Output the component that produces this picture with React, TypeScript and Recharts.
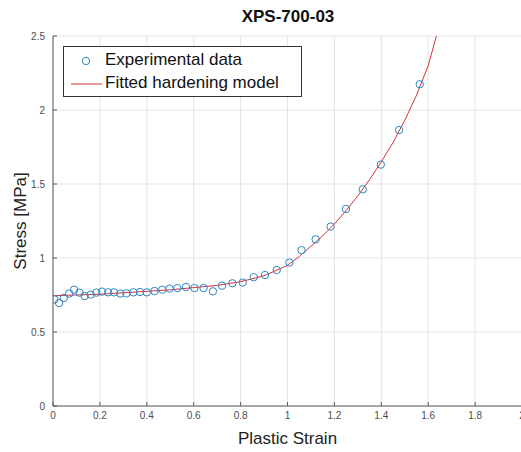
import {
  ComposedChart,
  Scatter,
  Line,
  XAxis,
  YAxis,
  CartesianGrid,
} from "recharts";

// experimental points (plastic strain, stress in MPa)
const expStrain = [
  0.006, 0.026, 0.046, 0.069, 0.09, 0.113, 0.135, 0.161, 0.185, 0.209, 0.235,
  0.26, 0.287, 0.313, 0.343, 0.371, 0.4, 0.433, 0.466, 0.497, 0.53, 0.567,
  0.603, 0.642, 0.682, 0.721, 0.765, 0.809, 0.856, 0.904, 0.954, 1.008, 1.06,
  1.12, 1.184, 1.249, 1.321, 1.398, 1.476, 1.564,
];
const expStress = [
  0.72, 0.696, 0.73, 0.76, 0.786, 0.766, 0.743, 0.753, 0.766, 0.773, 0.768,
  0.768, 0.76, 0.761, 0.768, 0.77, 0.768, 0.777, 0.786, 0.793, 0.797, 0.804,
  0.797, 0.797, 0.775, 0.813, 0.829, 0.834, 0.87, 0.885, 0.919, 0.969, 1.053,
  1.126, 1.212, 1.331, 1.464, 1.631, 1.865, 2.174,
];

// fitted hardening model
const fitStrain = [
  0, 0.1, 0.2, 0.3, 0.4, 0.5, 0.6, 0.7, 0.8, 0.9, 1.0, 1.05, 1.1, 1.15, 1.2,
  1.25, 1.3, 1.35, 1.4, 1.45, 1.5, 1.55, 1.6, 1.635,
];
const fitStress = [
  0.745, 0.75, 0.755, 0.765, 0.775, 0.785, 0.8, 0.815, 0.84, 0.88, 0.95, 1.01,
  1.08, 1.15, 1.23, 1.32, 1.42, 1.53, 1.65, 1.78, 1.93, 2.1, 2.3, 2.5,
];

const xTicks = [0, 0.2, 0.4, 0.6, 0.8, 1, 1.2, 1.4, 1.6, 1.8, 2];
const yTicks = [0, 0.5, 1, 1.5, 2, 2.5];

const expData = expStrain.map((x, i) => ({ x, y: expStress[i] }));
const fitData = fitStrain.map((x, i) => ({ x, y: fitStress[i] }));

const FONT = "'Liberation Sans', Arial, Helvetica, sans-serif";
const BLUE = "#2f86c0";
const RED = "#d8303a";
const AXIS = "#5a5a5a";
const tickStyle = { fontSize: 10, fill: "#4d4d4d", fontFamily: FONT };

function Circle(props: any) {
  return (
    <circle
      cx={props.cx}
      cy={props.cy}
      r={3.7}
      fill="none"
      stroke={BLUE}
      strokeWidth={1}
    />
  );
}

function LegendBox() {
  return (
    <div
      style={{
        position: "absolute",
        left: 63,
        top: 46,
        width: 237,
        height: 49,
        border: "1px solid #333",
        background: "#fff",
        fontFamily: FONT,
        fontSize: 17,
        color: "#111",
      }}
    >
      <svg
        width={40}
        height={49}
        style={{ position: "absolute", left: 0, top: 0 }}
      >
        <circle cx={22} cy={14} r={3.7} fill="none" stroke={BLUE} />
        <line x1={7} x2={38} y1={37} y2={37} stroke={RED} strokeWidth={1} />
      </svg>
      <div style={{ position: "absolute", left: 41, top: 3, lineHeight: "20px" }}>
        Experimental data
      </div>
      <div style={{ position: "absolute", left: 41, top: 26, lineHeight: "20px" }}>
        Fitted hardening model
      </div>
    </div>
  );
}

export default function App() {
  return (
    <div
      style={{
        position: "absolute",
        left: 0,
        top: 0,
        width: 521,
        height: 452,
        overflow: "hidden",
        background: "#fff",
      }}
    >
      <div
        style={{
          position: "absolute",
          left: 53,
          width: 470,
          top: 7,
          textAlign: "center",
          fontFamily: FONT,
          fontWeight: "bold",
          fontSize: 17,
          color: "#111",
        }}
      >
        XPS-700-03
      </div>
      <ComposedChart
        width={530}
        height={452}
        margin={{ top: 36, right: 8, left: 0, bottom: 0 }}
      >
        <CartesianGrid stroke="#e4e4e4" strokeWidth={1} />
        <XAxis
          xAxisId={0}
          type="number"
          dataKey="x"
          domain={[0, 2]}
          ticks={xTicks}
          tickFormatter={(v: number) => String(v)}
          allowDataOverflow
          height={46}
          tickSize={-4}
          tickMargin={10}
          tick={tickStyle}
          stroke={AXIS}
          label={{
            value: "Plastic Strain",
            position: "insideBottom",
            offset: 8,
            style: { fontSize: 17, fill: "#222", fontFamily: FONT },
          }}
        />
        <XAxis
          xAxisId="top"
          orientation="top"
          type="number"
          domain={[0, 2]}
          ticks={xTicks}
          height={0}
          tickSize={-4}
          tick={{ fill: "none", fontSize: 1 }}
          stroke={AXIS}
        />
        <YAxis
          yAxisId={0}
          type="number"
          dataKey="y"
          domain={[0, 2.5]}
          ticks={yTicks}
          allowDataOverflow
          width={53}
          tickSize={-4}
          tickMargin={12}
          tick={tickStyle}
          stroke={AXIS}
          label={{
            value: "Stress [MPa]",
            angle: -90,
            position: "insideLeft",
            offset: 20,
            style: { fontSize: 17, fill: "#222", fontFamily: FONT, textAnchor: "middle" },
          }}
        />
        <YAxis
          yAxisId="right"
          orientation="right"
          type="number"
          domain={[0, 2.5]}
          ticks={yTicks}
          width={0}
          tickSize={-4}
          tick={{ fill: "none", fontSize: 1 }}
          stroke={AXIS}
        />
        <Scatter
          name="Experimental data"
          data={expData}
          xAxisId={0}
          yAxisId={0}
          shape={Circle}
          isAnimationActive={false}
        />
        <Line
          name="Fitted hardening model"
          data={fitData}
          xAxisId={0}
          yAxisId={0}
          dataKey="y"
          type="linear"
          dot={false}
          activeDot={false}
          stroke={RED}
          strokeWidth={1}
          isAnimationActive={false}
        />
      </ComposedChart>
      <LegendBox />
    </div>
  );
}
